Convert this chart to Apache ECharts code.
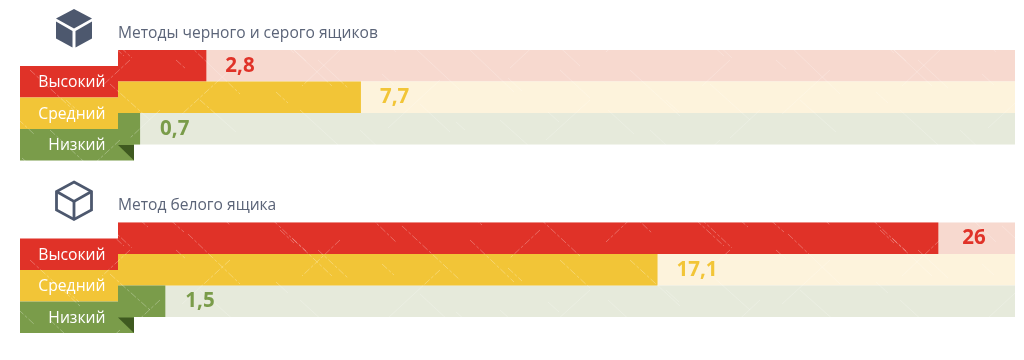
<!DOCTYPE html>
<html><head><meta charset="utf-8">
<style>html,body{margin:0;padding:0;background:#fff}#c{width:1024px;height:360px}</style>
<script src="https://cdn.jsdelivr.net/npm/echarts@6/dist/echarts.min.js"></script>
</head><body><div id="c"></div>
<script>
const levels = ['Высокий', 'Средний', 'Низкий'];
const blackGreyValues = [2.8, 7.7, 0.7];
const whiteBoxValues = [26, 17.1, 1.5];
const panelTitles = ['Методы черного и серого ящиков', 'Метод белого ящика'];
const axisMax = 28.43;
const solidColors = ['#e03228', '#f2c537', '#7a9c4a'];
const trackColors = ['#f7d9cf', '#fdf3dc', '#e6eadb'];
const foldColor = '#3f5a20';
const inkColor = '#4d586e';
// decorative scratches: [x, y, dx, dy]
const scratches = [
 [12,5,40,38],[70,0,62,58],[96,30,28,26],[150,12,34,30],[188,44,52,50],[240,3,24,22],[262,20,70,66],[318,60,30,28],
 [350,8,46,44],[402,36,58,54],[446,2,20,18],[470,50,44,42],[520,10,60,56],[560,70,30,28],[30,70,50,46],[110,84,40,36],
 [200,100,36,32],[300,110,48,44],[420,104,30,28],[500,120,40,36],[40,20,-34,32],[130,60,-28,26],[230,70,-48,44],
 [340,50,-38,36],[440,80,-52,48],[540,40,-30,28],[590,100,-44,40],[160,110,-30,28],[50,130,60,56],[360,130,46,44],
 [250,150,30,28],[480,150,-34,30],[120,140,-26,24],[570,150,24,22],[8,110,26,24],[280,40,14,13],[292,48,14,13],[470,24,12,11],
 [84,12,12,11],[176,60,10,9],[214,20,16,15],[382,74,12,11],[432,24,9,8],[508,78,14,13],[548,112,11,10],[66,100,13,12],
 [140,30,8,7],[330,20,10,9],[276,92,12,11],[396,150,13,12],[22,158,10,9],[196,170,12,11],[456,122,9,8],[584,20,10,9]
];
function texture(base, alpha, dash) {
  const c = document.createElement('canvas');
  c.width = 600; c.height = 190;
  const g = c.getContext('2d');
  g.fillStyle = base; g.fillRect(0, 0, 600, 190);
  g.strokeStyle = 'rgba(255,255,255,' + alpha + ')';
  g.lineWidth = 0.7;
  g.setLineDash(dash);
  scratches.forEach(([x, y, dx, dy]) => {
    g.beginPath(); g.moveTo(x, y); g.lineTo(x + dx, y + dy); g.stroke();
  });
  return { image: c, repeat: 'repeat' };
}
const solidFills = solidColors.map(c => texture(c, 0.4, [7, 2, 3, 2]));
const trackFills = trackColors.map(c => texture(c, 0.3, []));
const fmt = v => String(v).replace('.', ',');

function trackRender(params, api) {
  const i = api.value(0);
  const p = api.coord([0, i]);
  const h = api.size([0, 1])[1];
  const cs = params.coordSys;
  return { type: 'rect', shape: { x: cs.x, y: p[1] - h / 2, width: cs.width, height: h }, style: { fill: trackFills[i] } };
}
function tabRender(params, api) {
  const i = api.value(0);
  const p = api.coord([0, i]);
  const h = api.size([0, 1])[1];
  const x0 = params.coordSys.x;
  const top = p[1] - h / 2 + 16;
  const w = i === 2 ? 114 : 98;
  const kids = [
    { type: 'rect', shape: { x: x0 - 98, y: top, width: w, height: h }, style: { fill: solidFills[i] } },
    { type: 'text', style: { x: x0 - 12.5, y: top + h / 2 + 0.8, text: levels[i], align: 'right', verticalAlign: 'middle',
        fill: '#fff', font: '15.7px "Open Sans", sans-serif' } }
  ];
  if (i === 2) {
    kids.push({ type: 'polygon', shape: { points: [[x0, top + 16], [x0 + 16, top + 16], [x0 + 16, top + h]] }, style: { fill: foldColor } });
  }
  return { type: 'group', children: kids };
}
function panelSeries(idx, values) {
  const ids = levels.map((_, i) => [i]);
  return [
    { type: 'custom', xAxisIndex: idx, yAxisIndex: idx, z: 1, silent: true, clip: false, renderItem: trackRender, data: ids, encode: { y: 0 } },
    { type: 'bar', xAxisIndex: idx, yAxisIndex: idx, z: 2, barWidth: '100%', silent: true,
      data: values.map((v, i) => ({
        value: v,
        itemStyle: { color: solidFills[i] },
        label: { show: true, position: 'right', distance: v === 26 ? 24 : (v === 0.7 || v === 1.5 ? 20 : 19), formatter: fmt(v),
          color: solidColors[i], fontFamily: 'Open Sans', fontWeight: 'bold', fontSize: 20.5 }
      })) },
    { type: 'custom', xAxisIndex: idx, yAxisIndex: idx, z: 3, silent: true, clip: false, renderItem: tabRender, data: ids, encode: { y: 0 } }
  ];
}
const grids = [
  { left: 118, right: 9, top: 50, height: 94.5 },
  { left: 118, right: 9, top: 222.5, height: 94.5 }
];
const ink = { stroke: inkColor, lineWidth: 2.8, fill: 'none', lineJoin: 'miter' };
const chart = echarts.init(document.getElementById('c'), null, { renderer: 'canvas' });
chart.setOption({
  animation: false,
  backgroundColor: '#fff',
  title: panelTitles.map((t, i) => ({
    text: t, left: 118, top: i === 0 ? 26 : 198, padding: 0,
    textStyle: { fontFamily: 'Open Sans', fontWeight: 'normal', fontSize: 15.6, color: '#5b6478' }
  })),
  grid: grids,
  xAxis: grids.map((_, i) => ({ gridIndex: i, type: 'value', min: 0, max: axisMax, show: false })),
  yAxis: grids.map((_, i) => ({ gridIndex: i, type: 'category', data: levels, inverse: true, show: false })),
  series: [...panelSeries(0, blackGreyValues), ...panelSeries(1, whiteBoxValues)],
  graphic: [
    { type: 'polygon', shape: { points: [[74, 9], [92, 18.5], [74, 28.5], [56, 18.5]] }, style: { fill: inkColor } },
    { type: 'polygon', shape: { points: [[56, 21.5], [72.5, 31], [72.5, 47.5], [56, 38.5]] }, style: { fill: inkColor } },
    { type: 'polygon', shape: { points: [[75.5, 31], [92, 21.5], [92, 38.5], [75.5, 47.5]] }, style: { fill: inkColor } },
    { type: 'polygon', shape: { points: [[74, 182], [91.5, 191.5], [91.5, 210], [74, 219.5], [56.5, 210], [56.5, 191.5]] }, style: ink },
    { type: 'polyline', shape: { points: [[56.5, 191.5], [74, 201.5], [91.5, 191.5]] }, style: ink },
    { type: 'line', shape: { x1: 74, y1: 201.5, x2: 74, y2: 219.5 }, style: ink }
  ]
});
</script></body></html>
